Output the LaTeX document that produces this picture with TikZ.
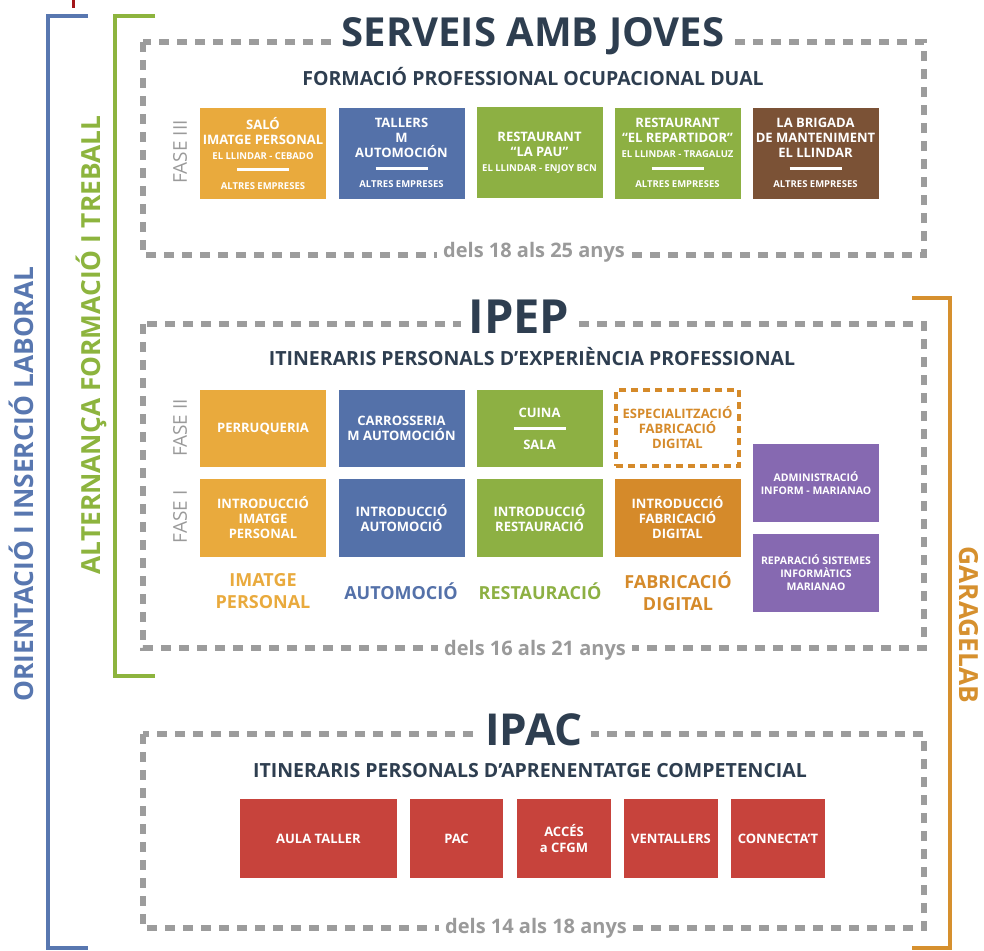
\documentclass[tikz,border=0pt]{standalone}
\usepackage{fontspec}
\setmainfont{Open Sans}
\definecolor{dashgray}{HTML}{9C9C9C}
\definecolor{txtgray}{HTML}{9A9A9A}
\definecolor{navy}{HTML}{2E3E50}
\definecolor{cOr}{HTML}{E9AA3D}
\definecolor{cBl}{HTML}{5471A9}
\definecolor{cGr}{HTML}{8DB043}
\definecolor{cBr}{HTML}{7B5236}
\definecolor{cDo}{HTML}{D58A2A}
\definecolor{cPu}{HTML}{8669B1}
\definecolor{cRe}{HTML}{C7433C}
\definecolor{brBlue}{HTML}{5877B0}
\definecolor{brGreen}{HTML}{8DB43E}
\definecolor{brOrange}{HTML}{D6902E}
\definecolor{tick}{HTML}{A3161A}
\tikzset{
  dbox/.style={draw=dashgray, line width=5.5pt, dash pattern=on 10pt off 8pt},
  cbox/.style={minimum width=126pt, minimum height=#1, inner sep=0pt, text=white,
    font=\bfseries\fontsize{13}{15}\selectfont, align=center},
  cbox/.default=91pt,
  rbox/.style={minimum height=79pt, inner sep=0pt, text=white, fill=cRe,
    font=\bfseries\fontsize{13}{16}\selectfont, align=center},
  title/.style={fill=white, text=navy, font=\bfseries\fontsize{40}{44}\selectfont, inner xsep=8pt, inner ysep=2pt},
  subtitle/.style={text=navy, font=\bfseries\fontsize{19.5}{22}\selectfont},
  age/.style={fill=white, text=txtgray, font=\bfseries\fontsize{20}{23}\selectfont, inner xsep=6pt, inner ysep=1pt},
  fase/.style={rotate=90, text=txtgray, font=\fontsize{19}{22}\selectfont},
  cat/.style={font=\bfseries\fontsize{18}{21.5}\selectfont, align=center},
  side/.style={font=\bfseries\fontsize{26.3}{30}\selectfont},
  bracket/.style={line width=4.5pt}
}
\newcommand{\sml}[1]{{\fontsize{9.5}{12}\selectfont #1}}
\newcommand{\sep}{\rule[3pt]{52pt}{3pt}}
\begin{document}
\begin{tikzpicture}[x=1pt,y=-1pt]
\useasboundingbox (0,0) rectangle (984,950);
% brackets
\draw[tick, line width=3pt] (73,0) -- (73,8);
\coordinate (b1) at (88,16); \coordinate (b2) at (48,16);
\coordinate (b3) at (48,948); \coordinate (b4) at (88,948);
\draw[bracket, brBlue] (b1) -- (b2) -- (b3) -- (b4);
\coordinate (g1) at (155,16); \coordinate (g2) at (115,16);
\coordinate (g3) at (115,676); \coordinate (g4) at (155,676);
\draw[bracket, brGreen] (g1) -- (g2) -- (g3) -- (g4);
\coordinate (o1) at (912,298); \coordinate (o2) at (950,298);
\coordinate (o3) at (950,948); \coordinate (o4) at (912,948);
\draw[bracket, brOrange] (o1) -- (o2) -- (o3) -- (o4);
\node[side, rotate=90, text=brBlue] (sideA) at (21,484) {ORIENTACIÓ I INSERCIÓ LABORAL};
\node[side, rotate=90, text=brGreen] (sideB) at (91,345) {ALTERNANÇA FORMACIÓ I TREBALL};
\node[side, rotate=-90, text=brOrange] (sideC) at (969,625) {GARAGELAB};

% ---------- SERVEIS AMB JOVES ----------
\draw[dbox] (143,42) rectangle (924,255);
\node[title] (t1) at (533,36) {SERVEIS AMB JOVES};
\node[subtitle] (s1) at (533,77) {FORMACIÓ PROFESSIONAL OCUPACIONAL DUAL};
\node[age] (a1) at (534,252) {dels 18 als 25 anys};
\node[fase] (f3) at (180,152) {FASE III};
\node[cbox, fill=cOr] (p1) at (263,153) {SALÓ\\IMATGE PERSONAL\\\sml{EL LLINDAR - CEBADO}\\\sep\\\sml{ALTRES EMPRESES}};
\node[cbox, fill=cBl] (p2) at (401.5,153) {TALLERS\\M\\AUTOMOCIÓN\\\sep\\\sml{ALTRES EMPRESES}};
\node[cbox, fill=cGr] (p3) at (539.5,152.5) {RESTAURANT\\“LA PAU”\\\sml{EL LLINDAR - ENJOY BCN}};
\node[cbox, fill=cGr] (p4) at (677.5,153) {RESTAURANT\\“EL REPARTIDOR”\\\sml{EL LLINDAR - TRAGALUZ}\\\sep\\\sml{ALTRES EMPRESES}};
\node[cbox, fill=cBr] (p5) at (815.5,153) {LA BRIGADA\\DE MANTENIMENT\\EL LLINDAR\\\sep\\\sml{ALTRES EMPRESES}};

% ---------- IPEP ----------
\draw[dbox] (143,324) rectangle (924,648);
\node[title, font=\bfseries\fontsize{47}{50}\selectfont] (t2) at (519,317) {IPEP};
\node[subtitle] (s2) at (532,357) {ITINERARIS PERSONALS D’EXPERIÈNCIA PROFESSIONAL};
\node[age] (a2) at (535,650) {dels 16 als 21 anys};
\node[fase] (f2) at (180,428) {FASE II};
\node[fase] (f1) at (180,517) {FASE I};
\node[cbox=77pt, fill=cOr] (q1) at (263,428.5) {PERRUQUERIA};
\node[cbox=77pt, fill=cBl] (q2) at (401.5,428.5) {CARROSSERIA\\M AUTOMOCIÓN};
\node[cbox=77pt, fill=cGr] (q3) at (539.5,428.5) {CUINA\\[1pt]\sep\\[1pt]SALA};
\node[cbox=76pt, minimum width=123pt, text=cDo, draw=cDo, line width=3.5pt, dash pattern=on 7pt off 5pt] (q4) at (677.5,428) {ESPECIALITZACIÓ\\FABRICACIÓ\\DIGITAL};
\node[cbox=78pt, fill=cOr] (r1) at (263,518) {INTRODUCCIÓ\\IMATGE\\PERSONAL};
\node[cbox=78pt, fill=cBl] (r2) at (401.5,518) {INTRODUCCIÓ\\AUTOMOCIÓ};
\node[cbox=78pt, fill=cGr] (r3) at (539.5,518) {INTRODUCCIÓ\\RESTAURACIÓ};
\node[cbox=78pt, fill=cDo] (r4) at (677.5,518) {INTRODUCCIÓ\\FABRICACIÓ\\DIGITAL};
\node[cbox=78pt, fill=cPu, font=\bfseries\fontsize{10.5}{13}\selectfont] (u1) at (816,483) {ADMINISTRACIÓ\\INFORM - MARIANAO};
\node[cbox=78pt, fill=cPu, font=\bfseries\fontsize{10.5}{13}\selectfont] (u2) at (816,573) {REPARACIÓ SISTEMES\\INFORMÀTICS\\MARIANAO};
\node[cat, text=cOr] (c1) at (263,591) {IMATGE\\PERSONAL};
\node[cat, text=cBl] (c2) at (401,591) {AUTOMOCIÓ};
\node[cat, text=cGr] (c3) at (540,591) {RESTAURACIÓ};
\node[cat, text=cDo] (c4) at (678,591) {FABRICACIÓ\\DIGITAL};

% ---------- IPAC ----------
\draw[dbox] (143,734) rectangle (924,928);
\node[title, font=\bfseries\fontsize{44}{48}\selectfont] (t3) at (534,730) {IPAC};
\node[subtitle] (s3) at (530,771) {ITINERARIS PERSONALS D’APRENENTATGE COMPETENCIAL};
\node[age] (a3) at (536,928) {dels 14 als 18 anys};
\node[rbox, minimum width=157pt] (v1) at (318.5,838.5) {AULA TALLER};
\node[rbox, minimum width=93pt] (v2) at (456.5,838.5) {PAC};
\node[rbox, minimum width=94pt] (v3) at (564,838.5) {ACCÉS\\a CFGM};
\node[rbox, minimum width=94pt] (v4) at (671,838.5) {VENTALLERS};
\node[rbox, minimum width=94pt] (v5) at (778,838.5) {CONNECTA’T};
\end{tikzpicture}
\end{document}
